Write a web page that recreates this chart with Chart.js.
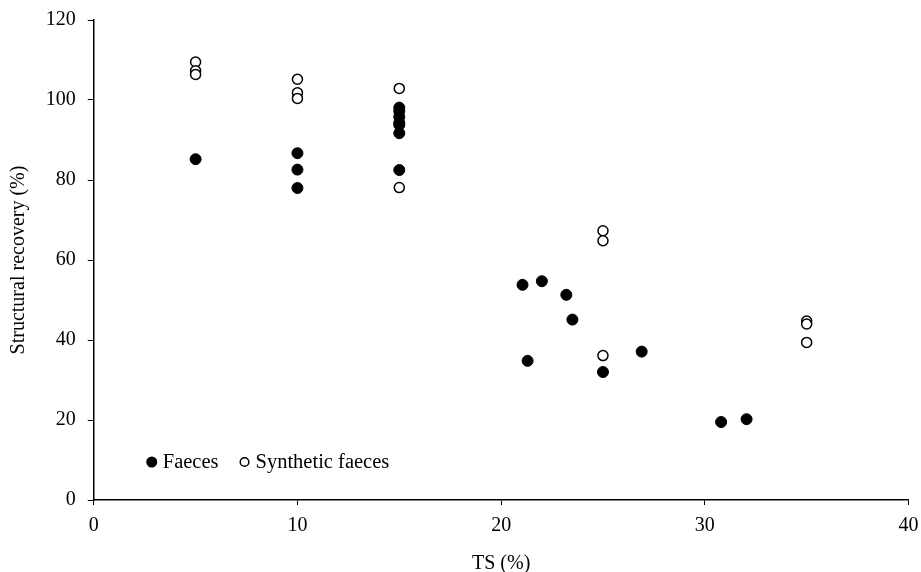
<!DOCTYPE html>
<html>
<head>
<meta charset="utf-8">
<script src="https://cdn.jsdelivr.net/npm/chart.js@4.4.0/dist/chart.umd.min.js"></script>
<style>
  html, body { margin: 0; padding: 0; background: #fff; }
  #wrap { width: 921px; height: 572px; }
</style>
</head>
<body>
<div id="wrap"><canvas id="scatterCanvas" width="921" height="572"></canvas></div>
<script>
// TS (%) vs structural recovery (%)
const faecesTS = [5, 10, 10, 10, 15, 15, 15, 15, 15, 15, 15, 21.05, 21.3, 22, 23.2, 23.5, 25, 26.9, 30.8, 32.05];
const faecesRecovery = [85.2, 86.7, 82.6, 78.0, 98.1, 97.2, 95.8, 94.3, 93.8, 91.7, 82.5, 53.8, 34.8, 54.7, 51.3, 45.1, 32.0, 37.1, 19.5, 20.2];

const syntheticTS = [5, 5, 5, 10, 10, 10, 15, 15, 25, 25, 25, 35, 35, 35];
const syntheticRecovery = [109.5, 107.3, 106.4, 105.2, 101.8, 100.4, 102.9, 78.1, 67.3, 64.8, 36.1, 44.75, 44.0, 39.4];

const seriesNames = ['Faeces', 'Synthetic faeces'];
const xTicks = [0, 10, 20, 30, 40];
const yTicks = [0, 20, 40, 60, 80, 100, 120];

const fontFamily = '"Liberation Serif", "Times New Roman", serif';

function toPoints(xs, ys) {
    return xs.map(function (x, i) { return { x: x, y: ys[i] }; });
}

// small legend drawn inside the plot, lower left
const innerLegend = {
    id: 'innerLegend',
    afterDraw: function (chart) {
        const ctx = chart.ctx;
        const area = chart.chartArea;
        let x = area.left + 58;
        const y = area.bottom - 38;
        ctx.save();
        ctx.font = '20.5px ' + fontFamily;
        ctx.textBaseline = 'middle';
        chart.data.datasets.forEach(function (ds) {
            ctx.beginPath();
            ctx.lineWidth = 1.5;
            ctx.strokeStyle = '#000';
            if (ds.backgroundColor === '#000') {
                ctx.arc(x, y, 5.5, 0, Math.PI * 2);
                ctx.fillStyle = '#000';
                ctx.fill();
            } else {
                ctx.arc(x, y, 4.3, 0, Math.PI * 2);
                ctx.fillStyle = '#fff';
                ctx.fill();
                ctx.stroke();
            }
            ctx.fillStyle = '#000';
            ctx.fillText(ds.label, x + 11, y + 1);
            x += 11 + ctx.measureText(ds.label).width + 26;
        });
        ctx.restore();
    }
};

const ctx = document.getElementById('scatterCanvas').getContext('2d');
new Chart(ctx, {
    type: 'scatter',
    data: {
        datasets: [{
            label: seriesNames[0],
            data: toPoints(faecesTS, faecesRecovery),
            backgroundColor: '#000',
            borderColor: '#000',
            borderWidth: 1,
            pointRadius: 5.5
        }, {
            label: seriesNames[1],
            data: toPoints(syntheticTS, syntheticRecovery),
            backgroundColor: '#fff',
            borderColor: '#000',
            borderWidth: 1.5,
            pointRadius: 5
        }]
    },
    plugins: [innerLegend],
    options: {
        responsive: false,
        animation: false,
        layout: { padding: { left: 0, right: 12.5, top: 20, bottom: 0 } },
        plugins: {
            legend: { display: false },
            tooltip: { enabled: false }
        },
        scales: {
            x: {
                type: 'linear',
                min: 0,
                max: 40,
                afterBuildTicks: function (axis) { axis.ticks = xTicks.map(function (v) { return { value: v }; }); },
                afterFit: function (axis) {
                    axis.height = 72;
                    axis.paddingLeft = 0;
                    axis.paddingRight = 0;
                },
                border: { display: true, color: '#000', width: 1.5 },
                grid: { display: true, drawOnChartArea: false, drawTicks: true, tickLength: 5, color: '#000', lineWidth: 1 },
                ticks: { color: '#000', padding: 9, maxRotation: 0, font: { family: fontFamily, size: 20 } },
                title: { display: true, text: 'TS (%)', color: '#000', padding: { top: 0, bottom: -4 }, font: { family: fontFamily, size: 20 } }
            },
            y: {
                type: 'linear',
                min: 0,
                max: 120,
                afterBuildTicks: function (axis) { axis.ticks = yTicks.map(function (v) { return { value: v }; }); },
                afterFit: function (axis) {
                    axis.width = 93.75;
                    axis.paddingTop = 0;
                    axis.paddingBottom = 0;
                },
                border: { display: true, color: '#000', width: 1.5 },
                grid: { display: true, drawOnChartArea: false, drawTicks: true, tickLength: 6, color: '#000', lineWidth: 1 },
                ticks: { color: '#000', padding: 12, font: { family: fontFamily, size: 20 } },
                title: { display: true, text: 'Structural recovery (%)', color: '#000', padding: { top: 7, bottom: 0 }, font: { family: fontFamily, size: 20 } }
            }
        }
    }
});
</script>
</body>
</html>
